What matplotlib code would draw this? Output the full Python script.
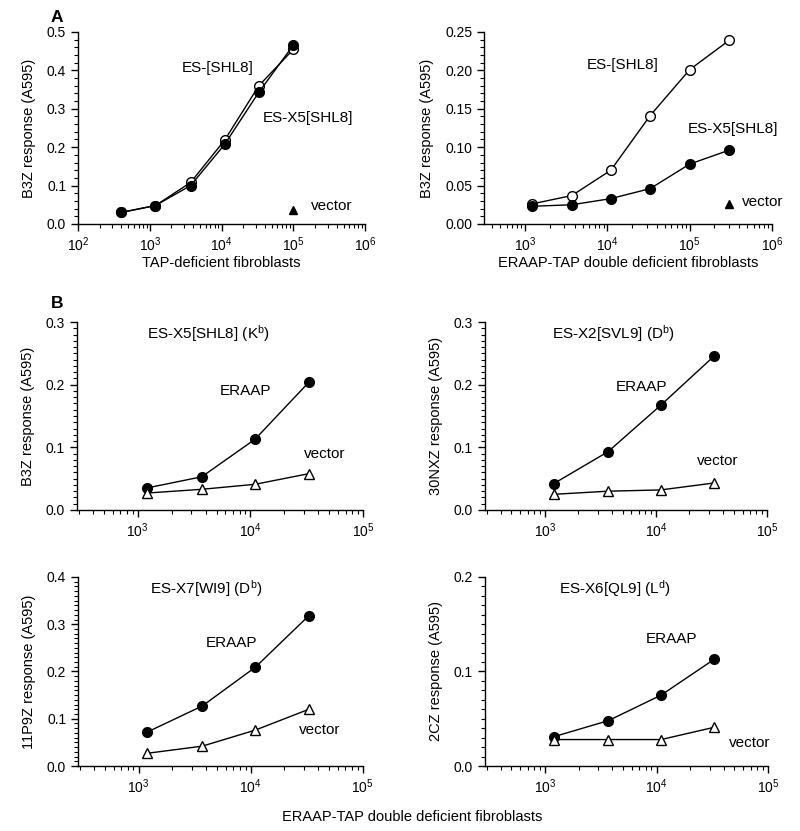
import numpy as np
import matplotlib
matplotlib.use("Agg")
import matplotlib.pyplot as plt
from matplotlib.ticker import LogLocator, MultipleLocator, FormatStrFormatter, NullFormatter

plt.rcParams['font.family'] = ['Liberation Sans', 'DejaVu Sans']
plt.rcParams['mathtext.fontset'] = 'custom'
plt.rcParams['mathtext.rm'] = 'Liberation Sans'
plt.rcParams['mathtext.it'] = 'Liberation Sans'

# ---- panel A, left: TAP-deficient fibroblasts
a1_cells = [400, 1200, 3700, 11000, 33000, 100000]
a1_es = [0.030, 0.048, 0.108, 0.218, 0.360, 0.455]
a1_x5 = [0.030, 0.048, 0.100, 0.207, 0.343, 0.466]
a1_vec_x, a1_vec_y = [100000], [0.037]

# ---- panel A, right: ERAAP-TAP double deficient
a2_cells = [1200, 3700, 11000, 33000, 100000, 300000]
a2_es = [0.026, 0.037, 0.070, 0.141, 0.201, 0.239]
a2_x5 = [0.023, 0.025, 0.033, 0.046, 0.078, 0.096]
a2_vec_x, a2_vec_y = [300000], [0.026]

# ---- panel B: four epitopes, ERAAP vs vector
b_cells = [1200, 3700, 11000, 33000]
b_titles = ['ES-X5[SHL8] (K$^{b}$)', 'ES-X2[SVL9] (D$^{b}$)',
            'ES-X7[WI9] (D$^{b}$)', 'ES-X6[QL9] (L$^{d}$)']
b_ylabels = ['B3Z response (A595)', '30NXZ response (A595)',
             '11P9Z response (A595)', '2CZ response (A595)']
b_eraap = [[0.035, 0.053, 0.113, 0.204],
           [0.042, 0.093, 0.167, 0.245],
           [0.072, 0.127, 0.209, 0.318],
           [0.031, 0.048, 0.075, 0.113]]
b_vector = [[0.027, 0.033, 0.041, 0.058],
            [0.025, 0.030, 0.032, 0.043],
            [0.027, 0.042, 0.076, 0.120],
            [0.028, 0.028, 0.028, 0.041]]
b_ymax = [0.3, 0.3, 0.4, 0.2]

fs_tick = 10
fs_lab = 10.5
fs_txt = 11

fig = plt.figure(figsize=(8, 8.31), dpi=100)


def style(ax, xlim, ylim, ymaj, ymin, yfmt):
    ax.set_xscale('log')
    ax.set_xlim(*xlim)
    ax.set_ylim(*ylim)
    for s in ['top', 'right']:
        ax.spines[s].set_visible(False)
    for s in ['left', 'bottom']:
        ax.spines[s].set_linewidth(1.0)
    ax.yaxis.set_major_locator(MultipleLocator(ymaj))
    ax.yaxis.set_minor_locator(MultipleLocator(ymin))
    ax.yaxis.set_major_formatter(FormatStrFormatter(yfmt))
    ax.xaxis.set_major_locator(LogLocator(base=10, numticks=10))
    ax.xaxis.set_minor_locator(LogLocator(base=10, subs=np.arange(2, 10), numticks=10))
    ax.xaxis.set_minor_formatter(NullFormatter())
    ax.tick_params(which='major', direction='out', length=5, width=1, labelsize=fs_tick)
    ax.tick_params(which='minor', direction='out', length=3, width=0.8)


line_kw = dict(color='black', lw=1.0, ms=7, mec='black', mew=1.0)

# panel A left
ax = fig.add_axes([0.0975, 0.7305, 0.359, 0.231])
style(ax, (1e2, 1e6), (0, 0.5), 0.1, 0.02, '%.1f')
ax.plot(a1_cells, a1_es, marker='o', mfc='white', **line_kw)
ax.plot(a1_cells, a1_x5, marker='o', mfc='black', **line_kw)
ax.plot(a1_vec_x, a1_vec_y, marker='^', ls='none', color='black', ms=6)
ax.text(10 ** 3.95, 0.405, 'ES-[SHL8]', ha='center', va='center', fontsize=fs_txt)
ax.text(10 ** 5.2, 0.276, 'ES-X5[SHL8]', ha='center', va='center', fontsize=fs_txt)
ax.text(10 ** 5.25, 0.047, 'vector', ha='left', va='center', fontsize=fs_txt)
ax.set_ylabel('B3Z response (A595)', fontsize=fs_lab, labelpad=8)
ax.set_xlabel('TAP-deficient fibroblasts', fontsize=fs_lab, labelpad=1)
fig.text(0.063, 0.9795, 'A', fontsize=12.5, fontweight='bold', ha='left', va='center')

# panel A right
ax = fig.add_axes([0.605, 0.7305, 0.36, 0.231])
style(ax, (10 ** 2.5, 1e6), (0, 0.25), 0.05, 0.01, '%.2f')
ax.plot(a2_cells, a2_es, marker='o', mfc='white', **line_kw)
ax.plot(a2_cells, a2_x5, marker='o', mfc='black', **line_kw)
ax.plot(a2_vec_x, a2_vec_y, marker='^', ls='none', color='black', ms=6)
ax.text(10 ** 4.19, 0.207, 'ES-[SHL8]', ha='center', va='center', fontsize=fs_txt)
ax.text(10 ** 5.52, 0.124, 'ES-X5[SHL8]', ha='center', va='center', fontsize=fs_txt)
ax.text(10 ** 5.63, 0.028, 'vector', ha='left', va='center', fontsize=fs_txt)
ax.set_ylabel('B3Z response (A595)', fontsize=fs_lab, labelpad=8)
ax.set_xlabel('ERAAP-TAP double deficient fibroblasts', fontsize=fs_lab, labelpad=1)

fig.text(0.063, 0.635, 'B', fontsize=12.5, fontweight='bold', ha='left', va='center')

# panel B grid
b_pos = [[0.096, 0.3863, 0.358, 0.2262],
         [0.606, 0.3863, 0.353, 0.2262],
         [0.0975, 0.0782, 0.356, 0.2275],
         [0.606, 0.0782, 0.354, 0.2275]]
title_xy = [(0.458, 0.94), (0.454, 0.94), (0.45, 0.94), (0.46, 0.94)]
eraap_xy = [(0.59, 0.633), (0.556, 0.654), (0.54, 0.65), (0.66, 0.67)]
vector_xy = [(0.867, 0.30), (0.826, 0.26), (0.85, 0.19), (0.936, 0.12)]

for i in range(4):
    ax = fig.add_axes(b_pos[i])
    style(ax, (10 ** 2.46, 1e5), (0, b_ymax[i]), 0.1, 0.01, '%.1f')
    ax.plot(b_cells, b_eraap[i], marker='o', mfc='black', **line_kw)
    ax.plot(b_cells, b_vector[i], marker='^', mfc='white', **line_kw)
    ax.text(*title_xy[i], b_titles[i], transform=ax.transAxes, ha='center', va='center', fontsize=fs_txt)
    ax.text(*eraap_xy[i], 'ERAAP', transform=ax.transAxes, ha='center', va='center', fontsize=fs_txt)
    ax.text(*vector_xy[i], 'vector', transform=ax.transAxes, ha='center', va='center', fontsize=fs_txt)
    ax.set_ylabel(b_ylabels[i], fontsize=fs_lab, labelpad=8)

fig.text(0.515, 0.017, 'ERAAP-TAP double deficient fibroblasts', ha='center', va='center', fontsize=fs_lab)

fig.savefig('out.png', dpi=100)
